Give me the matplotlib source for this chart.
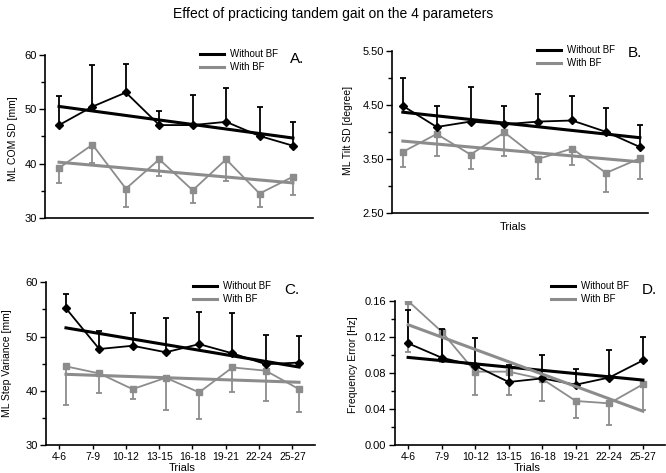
import numpy as np
import matplotlib
matplotlib.use('Agg')
import matplotlib.pyplot as plt
from matplotlib.ticker import MultipleLocator

plt.rcParams['font.family'] = ['Liberation Sans Narrow', 'Liberation Sans', 'DejaVu Sans']

trials = ['4-6', '7-9', '10-12', '13-15', '16-18', '19-21', '22-24', '25-27']

# A. ML COM SD [mm]
a_wo = [47.1, 50.5, 53.1, 47.1, 47.1, 47.7, 45.1, 43.3]
a_wo_cap = [52.5, 58.2, 58.3, 49.7, 52.7, 54.0, 50.4, 47.7]
a_bf = [39.2, 43.5, 35.4, 40.8, 35.1, 40.8, 34.5, 37.6]
a_bf_cap = [36.5, 40.2, 32.0, 37.7, 32.8, 36.9, 32.0, 34.3]

# B. ML Tilt SD [degree]
b_wo = [4.48, 4.09, 4.19, 4.14, 4.19, 4.21, 4.00, 3.72]
b_wo_cap = [4.99, 4.48, 4.82, 4.48, 4.70, 4.67, 4.45, 4.13]
b_bf = [3.63, 3.96, 3.58, 3.99, 3.50, 3.69, 3.24, 3.51]
b_bf_cap = [3.35, 3.56, 3.32, 3.55, 3.13, 3.39, 2.89, 3.12]

# C. ML Step Variance [mm]
c_wo = [55.2, 47.7, 48.3, 47.1, 48.6, 46.9, 44.9, 45.2]
c_wo_cap = [57.8, 51.1, 54.3, 53.4, 54.5, 54.3, 50.3, 50.1]
c_bf = [44.5, 43.2, 40.3, 42.4, 39.7, 44.3, 43.7, 40.3]
c_bf_cap = [37.4, 39.5, 38.5, 36.4, 34.8, 39.7, 38.2, 36.0]

# D. Frequency Error [Hz]
d_wo = [0.113, 0.097, 0.088, 0.070, 0.074, 0.067, 0.075, 0.094]
d_wo_cap = [0.150, 0.129, 0.1185, 0.089, 0.100, 0.0844, 0.106, 0.1196]
d_bf = [0.160, 0.126, 0.0815, 0.0815, 0.0733, 0.0489, 0.0463, 0.0674]
d_bf_cap = [0.1037, 0.092, 0.0556, 0.0556, 0.049, 0.0296, 0.0222, 0.0389]

BLACK = '#000000'
GREY = '#8c8c8c'
W, H = 666, 473

fig = plt.figure(figsize=(6.66, 4.73), dpi=100)
fig.suptitle('Effect of practicing tandem gait on the 4 parameters',
             fontsize=10, y=1 - 14 / H, va='center')


def px(l, t, r, b):
    return [l / W, 1 - b / H, (r - l) / W, (b - t) / H]


def panel(rect, wo, wo_cap, bf, bf_cap, ylim, major, minor, fmt, ylabel,
          ylab_pos, letter, letter_xy, leg_xy, xlim, ticks=False,
          tick_shift=0.0, trials_pos=None, offset=0.0):
    ax = fig.add_axes(px(*rect))
    x = np.arange(len(trials))
    wo = np.array(wo)
    bf = np.array(bf)
    up = np.array(wo_cap) - wo
    lo = bf - np.array(bf_cap)
    ax.errorbar(x, wo, yerr=[np.zeros_like(up), up], color=BLACK, lw=1.3,
                marker='D', ms=4.5, capsize=2.5, capthick=1.3, elinewidth=1.3,
                zorder=3)
    ax.errorbar(x, bf, yerr=[lo, np.zeros_like(lo)], color=GREY, lw=1.3,
                marker='s', ms=4.5, capsize=2.5, capthick=1.3, elinewidth=1.3,
                zorder=2)
    k1, b1 = np.polyfit(x, wo, 1)
    k2, b2 = np.polyfit(x, bf, 1)
    xe = np.array([x[0], x[-1]])
    h1, = ax.plot(xe, k1 * xe + b1, color=BLACK, lw=2.2, zorder=4)
    h2, = ax.plot(xe, k2 * xe + b2, color=GREY, lw=2.2, zorder=4)

    ax.set_xlim(*xlim)
    ax.set_ylim(*ylim)
    ax.yaxis.set_major_locator(MultipleLocator(major, offset=offset))
    ax.yaxis.set_minor_locator(MultipleLocator(minor))
    ax.yaxis.set_major_formatter(fmt)
    for s in ['top', 'right']:
        ax.spines[s].set_visible(False)
    for s in ['left', 'bottom']:
        ax.spines[s].set_linewidth(1.2)
    ax.tick_params(axis='y', which='major', length=4, width=1, labelsize=8, pad=2)
    ax.tick_params(axis='y', which='minor', length=3, width=1)
    if ticks:
        ax.set_xticks(x + tick_shift)
        ax.set_xticklabels(trials)
        ax.tick_params(axis='x', length=3, width=1, labelsize=7.5, pad=2)
    else:
        ax.set_xticks([])
    if trials_pos is not None:
        ax.set_xlabel('Trials', fontsize=8, va='center')
        ax.xaxis.set_label_coords((trials_pos[0] - rect[0]) / (rect[2] - rect[0]),
                                  (rect[3] - trials_pos[1]) / (rect[3] - rect[1]))
    ax.set_ylabel(ylabel, fontsize=7.5, va='center')
    ax.yaxis.set_label_coords((ylab_pos[0] - rect[0]) / (rect[2] - rect[0]),
                              (rect[3] - ylab_pos[1]) / (rect[3] - rect[1]))
    fig.text(letter_xy[0] / W, 1 - letter_xy[1] / H, letter, fontsize=11,
             ha='left', va='center')
    ax.legend([h1, h2], ['Without BF', 'With BF'], loc='upper left',
              bbox_to_anchor=(leg_xy[0] / W, 1 - leg_xy[1] / H),
              bbox_transform=fig.transFigure, frameon=False, borderpad=0,
              borderaxespad=0, handlelength=2.5, handletextpad=0.6,
              labelspacing=0.35, fontsize=7)
    return ax


panel((45, 55, 313, 218), a_wo, a_wo_cap, a_bf, a_bf_cap, (30, 60), 10, 5,
      '{x:.0f}', 'ML COM SD [mm]', (13, 139), 'A.', (290, 59), (200, 49),
      (-0.42, 7.6))
panel((392, 50.7, 648, 213), b_wo, b_wo_cap, b_bf, b_bf_cap, (2.5, 5.5), 1, 0.5,
      '{x:.2f}', 'ML Tilt SD [degree]', (348, 130), 'B.', (628, 53), (537, 45),
      (-0.32, 7.24), trials_pos=(513, 227), offset=0.5)
panel((46, 282.3, 315, 445), c_wo, c_wo_cap, c_bf, c_bf_cap, (30, 60), 10, 5,
      '{x:.0f}', 'ML Step Variance [mm]', (7, 363), 'C.', (284, 290), (193, 281),
      (-0.6, 7.48), ticks=True, tick_shift=-0.2, trials_pos=(182, 468))
panel((394.7, 301, 665, 445), d_wo, d_wo_cap, d_bf, d_bf_cap, (0, 0.16), 0.04,
      0.02, '{x:.2f}', 'Frequency Error [Hz]', (353, 365), 'D.', (642, 290),
      (551, 281), (-0.40, 7.66), ticks=True, trials_pos=(527, 468))

fig.savefig('out.png', dpi=100)
